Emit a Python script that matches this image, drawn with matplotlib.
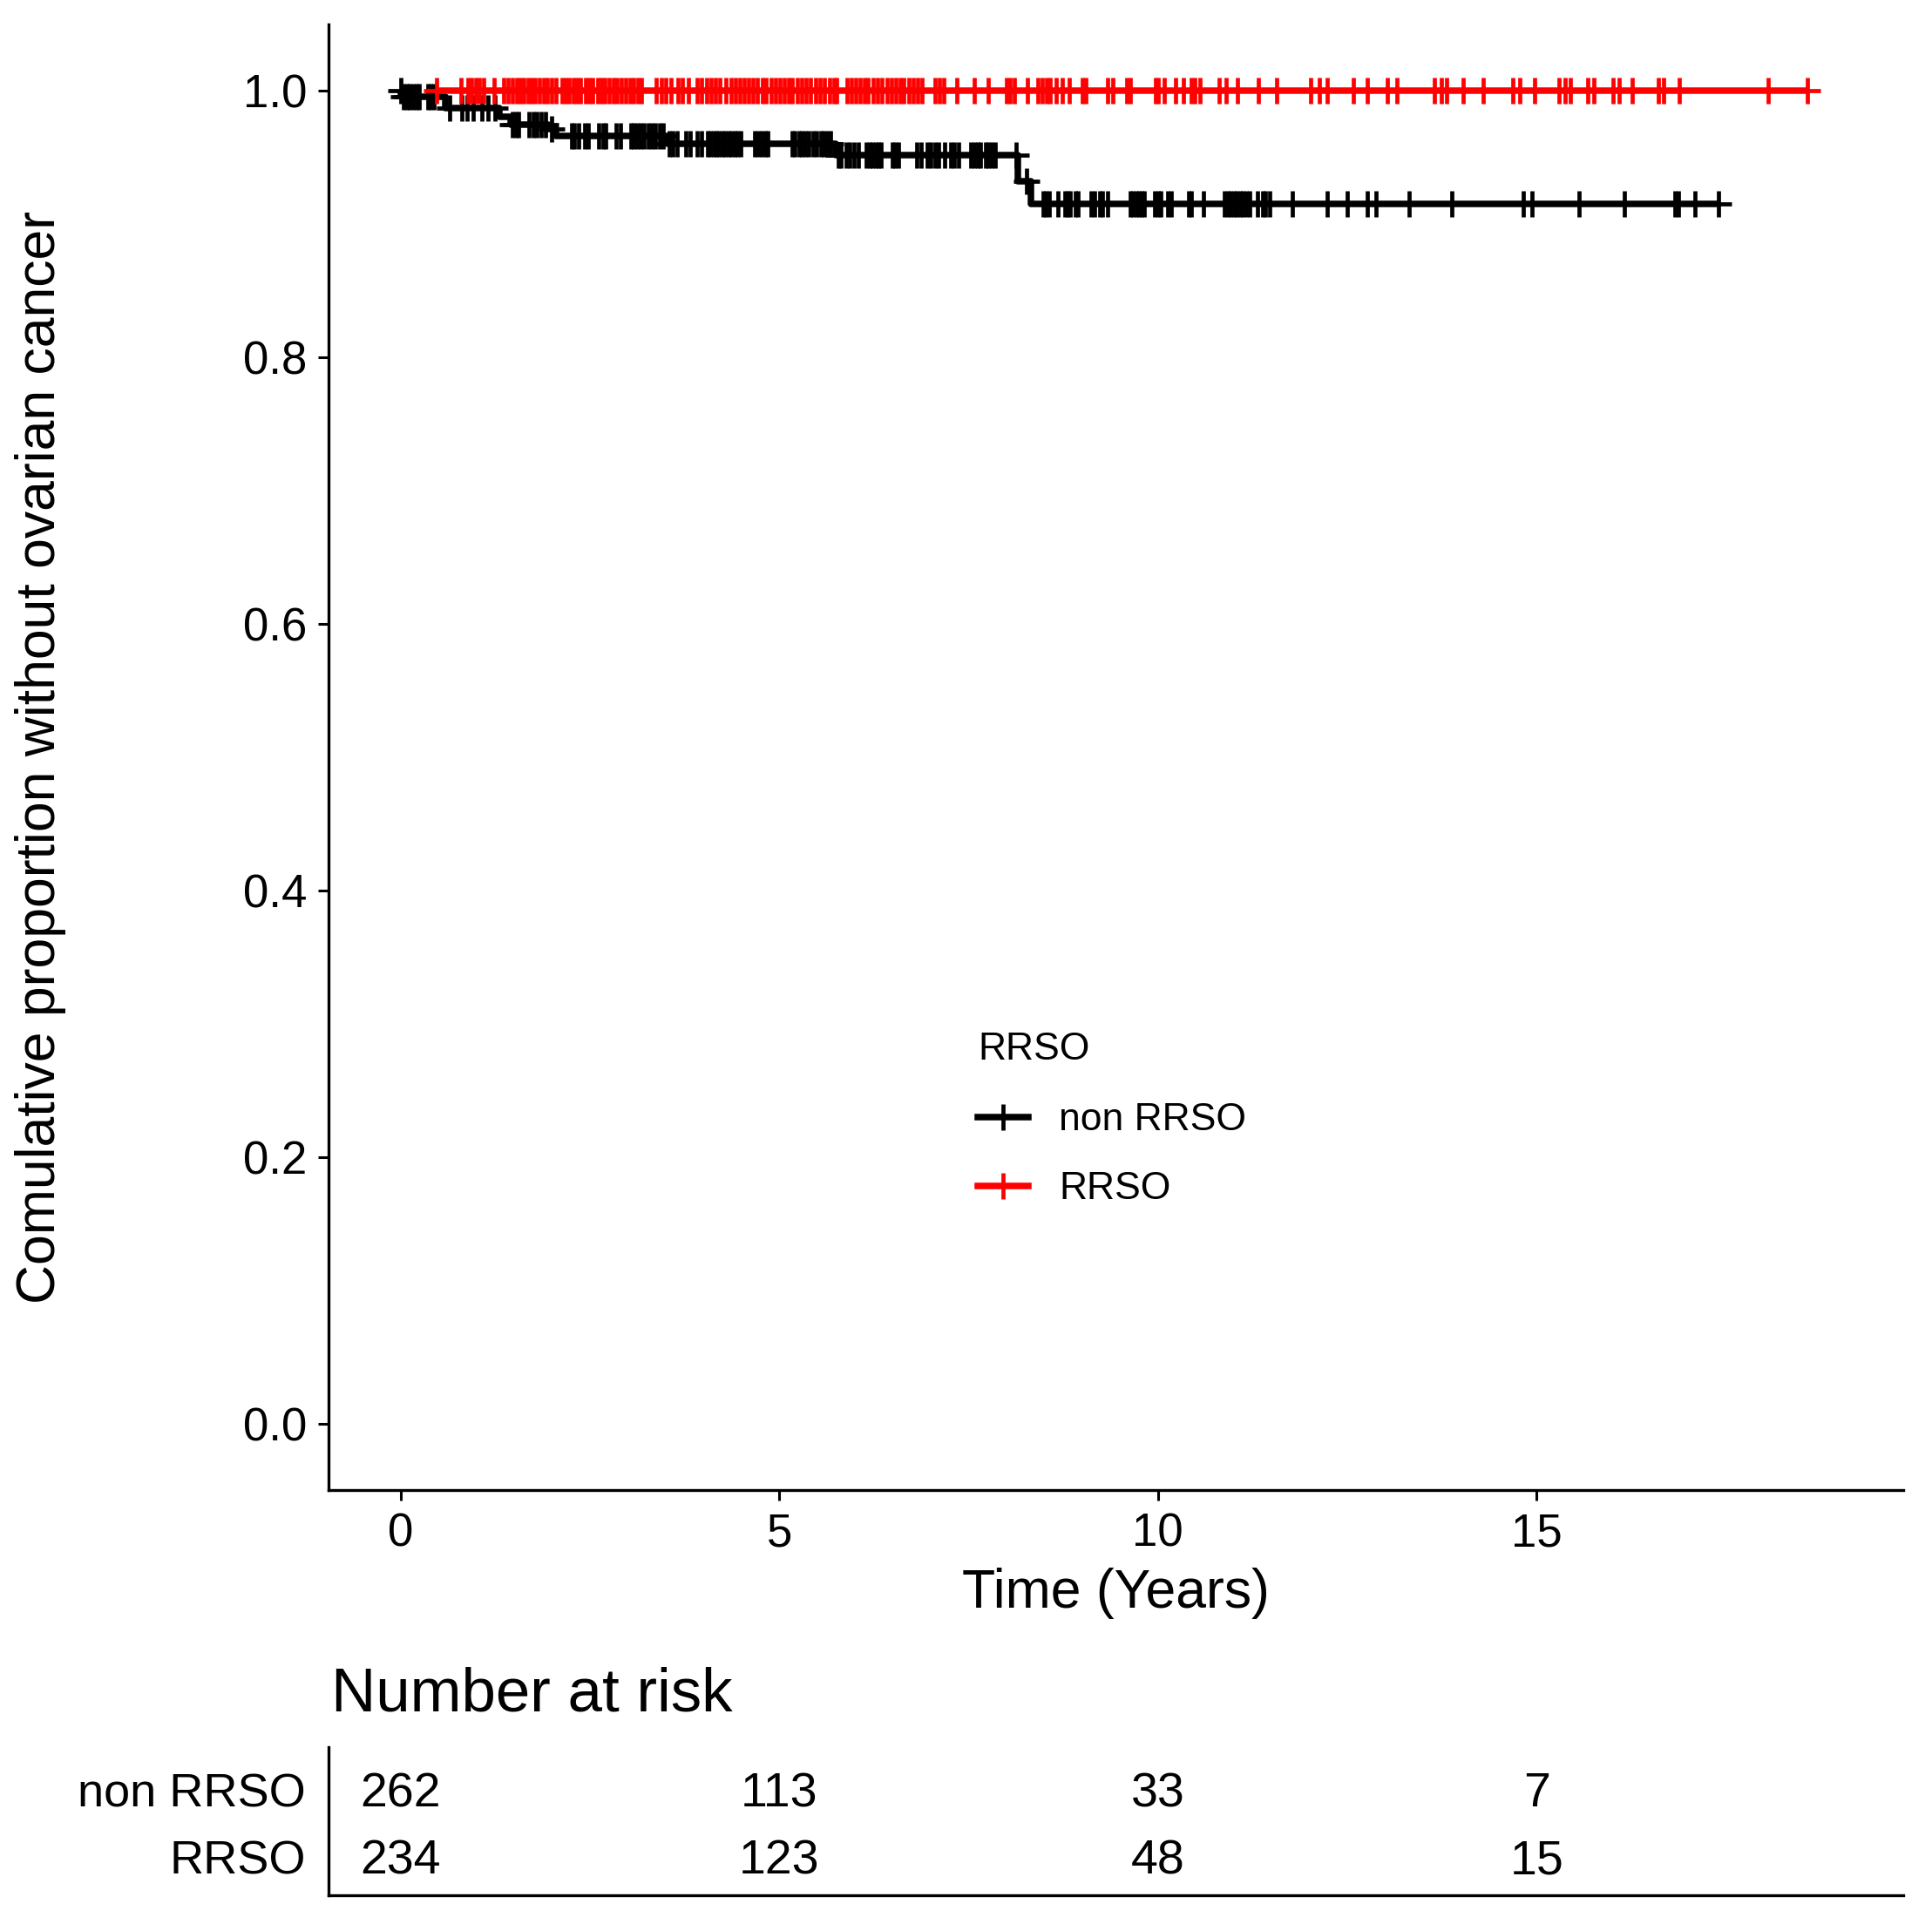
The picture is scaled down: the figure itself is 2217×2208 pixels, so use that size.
import numpy as np
import matplotlib
matplotlib.use("Agg")
import matplotlib.pyplot as plt
from matplotlib.lines import Line2D
import matplotlib.transforms as mtransforms

plt.rcParams['font.family'] = ['Liberation Sans', 'DejaVu Sans']

# ---------------- data ----------------
groups = ["non RRSO", "RRSO"]
colors = ["#000000", "#FF0000"]

# non RRSO Kaplan-Meier steps
black_start, black_end = 0.0, 17.40
black_event_t = [0.01, 0.59, 1.30, 1.45, 1.95, 2.05, 3.52, 5.75, 8.15, 8.32]
black_event_s = [0.9954, 0.9870, 0.9810, 0.9750, 0.9715, 0.9660, 0.9603, 0.9520, 0.9320, 0.9150]
black_censor_t = [
    0.00, 0.04, 0.08, 0.12, 0.17, 0.21, 0.25, 0.36, 0.40, 0.44, 0.65,
    0.81, 0.88, 0.96, 1.07, 1.15, 1.25, 1.48, 1.52, 1.56,
    1.70, 1.75, 1.80, 1.86, 1.91, 2.00,
    2.26, 2.30, 2.35, 2.43, 2.48, 2.62, 2.67, 2.71, 2.85, 2.90, 3.04, 3.08,
    3.12, 3.17, 3.21, 3.27, 3.32, 3.36, 3.42, 3.47,
    3.55, 3.60, 3.65, 3.77, 3.82, 3.92, 3.98, 4.05, 4.09, 4.13, 4.17, 4.21,
    4.25, 4.29, 4.33, 4.37, 4.41, 4.45, 4.49, 4.68, 4.72, 4.77, 4.81, 4.85,
    5.17, 5.21, 5.26, 5.30, 5.34, 5.39, 5.45, 5.49, 5.55, 5.59, 5.63, 5.68,
    5.78, 5.82, 5.88, 5.93, 5.99, 6.04, 6.15, 6.19, 6.23, 6.27, 6.31, 6.35,
    6.49, 6.53, 6.58, 6.82, 6.87, 6.95, 7.00, 7.06, 7.10, 7.18, 7.26, 7.31,
    7.37, 7.53, 7.57, 7.62, 7.66, 7.72, 7.76, 7.81, 7.85, 8.13,
    8.26,
    8.48, 8.52, 8.56, 8.68, 8.77, 8.81, 8.84, 8.91, 8.95, 9.12, 9.16, 9.23,
    9.27, 9.34, 9.63, 9.67, 9.71, 9.75, 9.79, 9.82, 9.96, 10.00, 10.04,
    10.13, 10.17, 10.41, 10.44, 10.60, 10.88, 10.92, 10.96, 11.00, 11.04,
    11.08, 11.12, 11.17, 11.21, 11.32, 11.38, 11.42, 11.48, 11.78, 12.24,
    12.50, 12.77, 12.88, 13.32, 13.88, 14.82, 14.94, 15.56, 16.16, 16.83,
    16.87, 17.09, 17.40]

# RRSO: no events
red_start, red_end = 0.48, 18.58
red_event_t = []
red_event_s = []
red_censor_t = [
    0.48, 0.80, 0.89, 0.94, 0.99, 1.04, 1.10, 1.24, 1.36, 1.42, 1.48,
    1.53, 1.58, 1.63, 1.68, 1.73, 1.78, 1.84, 1.89, 1.94, 2.00, 2.05,
    2.13, 2.18, 2.23, 2.28, 2.33, 2.38, 2.44, 2.49, 2.54, 2.60, 2.65, 2.70,
    2.76, 2.81, 2.86, 2.92, 2.97, 3.03, 3.08, 3.13, 3.18,
    3.38, 3.44, 3.50, 3.57, 3.66, 3.72, 3.80,
    3.92, 3.98, 4.04, 4.10, 4.16, 4.22, 4.30, 4.36, 4.42, 4.48, 4.54, 4.60,
    4.65, 4.71, 4.78, 4.82, 4.89, 4.95, 5.01, 5.07, 5.13, 5.17,
    5.24, 5.30, 5.36, 5.41, 5.48, 5.54, 5.60, 5.66, 5.72, 5.76,
    5.89, 5.95, 6.01, 6.07, 6.12, 6.17, 6.24, 6.30, 6.36, 6.42, 6.48, 6.54,
    6.60, 6.64, 6.71, 6.77, 6.83, 6.88, 7.06, 7.12, 7.17, 7.35, 7.58, 7.76,
    8.00, 8.05, 8.11, 8.28, 8.41, 8.47, 8.53, 8.58,
    8.66, 8.74, 8.83, 9.00, 9.05, 9.33, 9.41, 9.59, 9.63, 9.97, 10.00,
    10.08, 10.23, 10.34, 10.44, 10.49, 10.56, 10.81, 10.90, 11.05, 11.33,
    11.57, 12.02, 12.13, 12.23, 12.58, 12.77, 13.03, 13.15, 13.65, 13.74,
    13.81, 14.03, 14.30, 14.69, 14.78, 14.97, 15.30, 15.38, 15.45, 15.68,
    15.76, 16.01, 16.09, 16.26, 16.61, 16.68, 16.88, 18.06, 18.58]

# Number at risk table
risk_times = [0, 5, 10, 15, 20]
risk_non_rrso = [262, 113, 33, 7, 0]
risk_rrso = [234, 123, 48, 15, 0]

x_ticks = [0, 5, 10, 15]
y_ticks = [0.0, 0.2, 0.4, 0.6, 0.8, 1.0]
y_ticklabels = ["0.0", "0.2", "0.4", "0.6", "0.8", "1.0"]

# ---------------- figure ----------------
W, H = 2217, 2208
fig = plt.figure(figsize=(W / 100, H / 100), dpi=100)

ax = fig.add_axes([377 / W, 1 - 1710 / H, (2184 - 377) / W, (1710 - 28) / H])
axt = fig.add_axes([377 / W, 1 - 2175 / H, (2184 - 377) / W, (2175 - 2005) / H])

XLIM = (-0.95, 19.84)

def step_arrays(start, end, ev_t, ev_s):
    t = [start] + list(ev_t) + [end]
    s = [1.0] + list(ev_s) + [list(ev_s)[-1] if len(ev_s) else 1.0]
    return np.array(t), np.array(s)

def level_at(times, t_arr, s_arr):
    idx = np.searchsorted(t_arr, np.asarray(times), side='right') - 1
    idx = np.clip(idx, 0, len(s_arr) - 1)
    return s_arr[idx]

curves = [
    (black_start, black_end, black_event_t, black_event_s, black_censor_t),
    (red_start, red_end, red_event_t, red_event_s, red_censor_t),
]

LW = 5.4
MS = 22
MEW = 3.4
for (st, en, et, es, ct), col in zip(curves, colors):
    t_arr, s_arr = step_arrays(st, en, et, es)
    ax.step(t_arr, s_arr, where='post', color=col, lw=LW, solid_capstyle='butt', zorder=3)
    cy = level_at(ct, t_arr, s_arr)
    ax.plot(ct, cy, linestyle='none', marker='+', markersize=MS, markeredgewidth=MEW,
            color=col, zorder=3)

ax.set_xlim(*XLIM)
ax.set_ylim(-0.05, 1.05)
ax.set_xticks(x_ticks)
ax.set_yticks(y_ticks)
ax.set_yticklabels(y_ticklabels)
for sp in ['top', 'right']:
    ax.spines[sp].set_visible(False)
for sp in ['left', 'bottom']:
    ax.spines[sp].set_linewidth(2.4)
ax.tick_params(axis='both', length=8.6, width=2.2, labelsize=38, colors='black')
ax.tick_params(axis='y', pad=9)
ax.tick_params(axis='x', pad=10)

ax.set_xlabel("Time (Years)", fontsize=45)
ax.xaxis.label.set_va('center')
ax.xaxis.set_label_coords(0.5, -(1828 - 1710) / (1710 - 28))
ax.set_ylabel("Comulative proportion without ovarian cancer", fontsize=45)
ax.yaxis.label.set_va('center')
ax.yaxis.set_label_coords(-(377 - 47) / (2184 - 377), 0.5)

handles = [Line2D([0], [0], color=c, lw=LW, marker='+', markersize=MS, markeredgewidth=MEW)
           for c in colors]
leg = ax.legend(handles, groups, title="RRSO", loc='upper left',
                bbox_to_anchor=(1122 / W, 1 - 1184 / H), bbox_transform=fig.transFigure,
                frameon=False, fontsize=32, title_fontsize=32, borderpad=0,
                borderaxespad=0, handlelength=1.3, handletextpad=0.8,
                labelspacing=0.85)
leg._legend_box.align = 'left'
leg._legend_box.sep = 29

# ---------------- risk table ----------------
axt.set_xlim(*XLIM)
axt.set_ylim(0.42, 2.62)
axt.set_xticks([])
axt.set_yticks([])
for sp in ['top', 'right']:
    axt.spines[sp].set_visible(False)
for sp in ['left', 'bottom']:
    axt.spines[sp].set_linewidth(2.4)

rows = [(2, risk_non_rrso), (1, risk_rrso)]
row_shift = -0.08
for ypos, vals in rows:
    for t, v in zip(risk_times, vals):
        axt.text(t, ypos + row_shift, str(v), ha='center', va='center', fontsize=40, clip_on=True)

blend = mtransforms.blended_transform_factory(fig.transFigure, axt.transData)
for (ypos, _), name in zip(rows, groups):
    axt.text(351 / W, ypos + row_shift, name, ha='right', va='center', fontsize=39, transform=blend)

fig.text(380 / W, 1 - 1963 / H, "Number at risk", ha='left', va='baseline', fontsize=51)

fig.savefig("out.png", dpi=100)
